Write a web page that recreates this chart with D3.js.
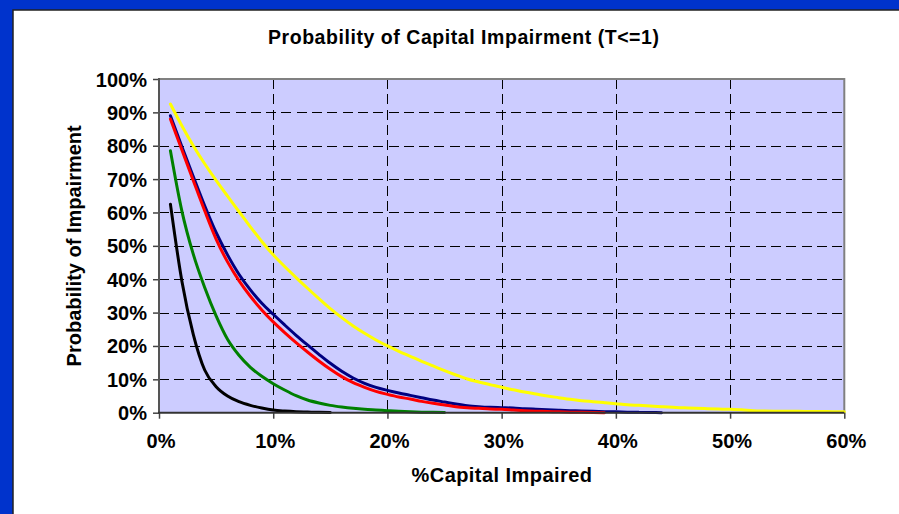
<!DOCTYPE html>
<html>
<head>
<meta charset="utf-8">
<script src="https://cdn.jsdelivr.net/npm/d3@7"></script>
<style>
  html, body { margin: 0; padding: 0; background: #0033cc; }
  svg { display: block; }
  text { font-family: "Liberation Sans", Arial, sans-serif; font-weight: bold; fill: #000; }
</style>
</head>
<body>
<svg id="chart" width="899" height="514"></svg>
<script>
// % of capital impaired (x, in percent)
const capitalImpaired = [
  1, 2, 3, 4, 5, 6, 7, 8, 9, 10, 11, 12, 13, 14, 15, 16, 17, 18, 19, 20,
  21, 22, 23, 24, 25, 26, 27, 28, 29, 30, 31, 32, 33, 34, 35, 36, 37, 38, 39, 40,
  41, 42, 43, 44, 45, 46, 47, 48, 49, 50, 51, 52, 53, 54, 55, 56, 57, 58, 59, 60
];

// Probability of impairment (percent), one list per curve
const seriesYellow = [
  92.5, 86, 80, 74.6, 69.6, 64.9, 60.3, 55.7, 51.3, 47.3,
  43.8, 40.5, 37.3, 34.2, 31.2, 28.5, 26, 23.8, 21.8, 20,
  18.4, 16.9, 15.4, 14, 12.6, 11.3, 10.1, 9.2, 8.4, 7.6,
  6.9, 6.2, 5.6, 5, 4.5, 4, 3.6, 3.3, 3.0, 2.7,
  2.4, 2.2, 2.0, 1.8, 1.6, 1.45, 1.3, 1.2, 1.1, 1.0,
  0.85, 0.6, 0.5, 0.45, 0.4, 0.4, 0.35, 0.35, 0.3, 0.3
];
const seriesNavy = [
  89, 79.8, 70.8, 62, 54, 47.3, 41.5, 36.8, 32.8, 29.5,
  26.3, 23.2, 20.3, 17.5, 14.8, 12.4, 10.4, 8.8, 7.6, 6.7,
  5.9, 5.2, 4.5, 3.8, 3.2, 2.6, 2.1, 1.8, 1.6, 1.5,
  1.4, 1.2, 1.05, 0.9, 0.75, 0.6, 0.5, 0.4, 0.3, 0.25,
  0.15, 0.1, 0.05, 0
];
const seriesRed = [
  88, 78.8, 69.6, 60.5, 52, 45.2, 39.6, 34.9, 30.8, 27.2,
  24, 21, 18.2, 15.5, 13, 10.8, 9, 7.6, 6.4, 5.5,
  4.7, 4.1, 3.4, 2.8, 2.3, 1.8, 1.5, 1.3, 1.1, 1.0,
  0.8, 0.6, 0.45, 0.35, 0.25, 0.15, 0.1, 0.05, 0
];
const seriesGreen = [
  78.5, 60.5, 47.5, 37.5, 29, 22, 17.2, 13.6, 10.9, 8.7,
  6.8, 5.1, 3.8, 2.9, 2.2, 1.7, 1.3, 1.0, 0.8, 0.6,
  0.4, 0.25, 0.15, 0.1, 0.05
];
const seriesBlack = [
  62.5, 39.5, 23.5, 12.8, 7.8, 5.0, 3.3, 2.2, 1.4, 0.8,
  0.5, 0.3, 0.2, 0.1, 0.05
];

const curves = [
  { values: seriesNavy,   color: "#000080" },
  { values: seriesRed,    color: "#ff0000" },
  { values: seriesYellow, color: "#ffff00" },
  { values: seriesGreen,  color: "#008000" },
  { values: seriesBlack,  color: "#000000" }
];

const xTicks = [0, 10, 20, 30, 40, 50, 60];
const yTicks = [0, 10, 20, 30, 40, 50, 60, 70, 80, 90, 100];

const titleText = "Probability of Capital Impairment (T<=1)";
const xTitle = "%Capital Impaired";
const yTitle = "Probability of Impairment";

const svg = d3.select("#chart");
const W = 899, H = 514;

// outer frame and white panel
svg.append("rect").attr("width", W).attr("height", H).attr("fill", "#0033cc");
svg.append("rect").attr("x", 13).attr("y", 10).attr("width", W).attr("height", H)
  .attr("fill", "#ffffff").attr("stroke", "#222").attr("stroke-width", 1.5);

const plot = { left: 159, right: 844.3, top: 79, bottom: 412.7 };

const x = d3.scaleLinear().domain([0, 60]).range([plot.left, plot.right]);
const y = d3.scaleLinear().domain([0, 100]).range([plot.bottom, plot.top]);

// plot area
svg.append("rect")
  .attr("x", plot.left).attr("y", plot.top)
  .attr("width", plot.right - plot.left).attr("height", plot.bottom - plot.top)
  .attr("fill", "#ccccff");

// dashed grid
const grid = svg.append("g").attr("stroke", "#000").attr("stroke-width", 1)
  .attr("stroke-dasharray", "10,5.3").attr("shape-rendering", "crispEdges");
grid.selectAll("line.h").data(yTicks.filter(d => d > 0 && d < 100)).join("line")
  .attr("class", "h")
  .attr("x1", plot.left).attr("x2", plot.right)
  .attr("y1", d => Math.round(y(d)) + 0.5).attr("y2", d => Math.round(y(d)) + 0.5);
grid.selectAll("line.v").data(xTicks.filter(d => d > 0 && d < 60)).join("line")
  .attr("class", "v")
  .attr("y1", plot.top).attr("y2", plot.bottom)
  .attr("x1", d => Math.round(x(d)) + 0.5).attr("x2", d => Math.round(x(d)) + 0.5);

// top and right border of the plot area
svg.append("path")
  .attr("d", `M${plot.left},${plot.top}H${plot.right}V${plot.bottom}`)
  .attr("fill", "none").attr("stroke", "#808080").attr("stroke-width", 2);

// curves
const line = d3.line()
  .x((d, i) => x(capitalImpaired[i]))
  .y(d => y(d))
  .curve(d3.curveMonotoneX);
svg.append("g").selectAll("path").data(curves).join("path")
  .attr("d", c => line(c.values))
  .attr("fill", "none")
  .attr("stroke", c => c.color)
  .attr("stroke-width", 3)
  .attr("stroke-linejoin", "round")
  .attr("stroke-linecap", "round");

// axes
const yAxis = d3.axisLeft(y).tickValues(yTicks).tickSize(6).tickPadding(6)
  .tickFormat(d => d + "%");
const gy = svg.append("g").attr("transform", `translate(${plot.left},0)`).call(yAxis);
gy.select(".domain").remove();
gy.selectAll(".tick line").attr("stroke", "#444").attr("stroke-width", 1.5);
gy.selectAll(".tick text").attr("font-size", 20).attr("font-family", null)
  .attr("dy", "0.35em").attr("x", -12);

const xAxis = d3.axisBottom(x).tickValues(xTicks).tickSize(6).tickPadding(6)
  .tickFormat(d => d + "%");
const gx = svg.append("g").attr("transform", `translate(0,${plot.bottom})`).call(xAxis);
gx.select(".domain").remove();
gx.selectAll(".tick line").attr("stroke", "#444").attr("stroke-width", 1.5);
gx.selectAll(".tick text").attr("font-size", 20).attr("font-family", null)
  .attr("y", 35).attr("dy", null).attr("dx", 1.5);

// axis lines
svg.append("line").attr("x1", plot.left).attr("x2", plot.left)
  .attr("y1", plot.top - 1).attr("y2", plot.bottom + 1)
  .attr("stroke", "#555").attr("stroke-width", 2);
svg.append("line").attr("x1", plot.left - 1).attr("x2", plot.right)
  .attr("y1", plot.bottom).attr("y2", plot.bottom)
  .attr("stroke", "#333").attr("stroke-width", 2);

// titles
svg.append("text").attr("x", 268).attr("y", 44)
  .attr("font-size", 19.5).attr("letter-spacing", 0.55).text(titleText);
svg.append("text").attr("x", 411.5).attr("y", 482)
  .attr("font-size", 20).attr("letter-spacing", 0.45).text(xTitle);
svg.append("text")
  .attr("transform", `translate(81,${(plot.top + plot.bottom) / 2}) rotate(-90)`)
  .attr("text-anchor", "middle").attr("font-size", 20).text(yTitle);
</script>
</body>
</html>
